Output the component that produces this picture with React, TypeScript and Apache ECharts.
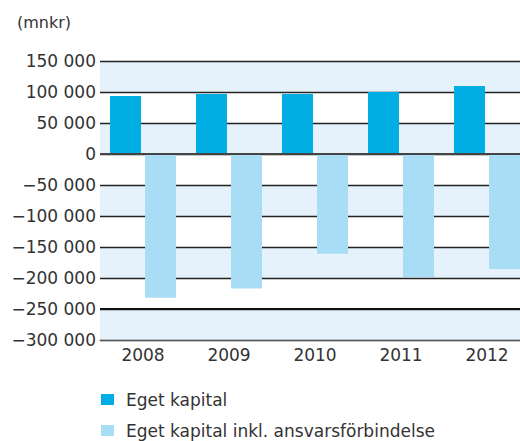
import React, { useEffect, useRef } from "react";
import * as echarts from "echarts";

const categories = ["2008", "2009", "2010", "2011", "2012"];
const egetKapital = [93500, 96800, 96800, 100000, 109700];
const inklAnsvar = [-232000, -217000, -161000, -198500, -185500];
const seriesNames = ["Eget kapital", "Eget kapital inkl. ansvarsförbindelse"];
const unitLabel = "(mnkr)";

const FONT = "DejaVu Sans";

function fmt(v: number): string {
  const abs = Math.abs(v);
  const s = abs.toString().replace(/\B(?=(\d{3})+(?!\d))/g, " ");
  return (v < 0 ? "\u2212" : "") + s;
}

export default function App() {
  const ref = useRef<HTMLDivElement>(null);
  useEffect(() => {
    if (!ref.current) return;
    const chart = echarts.init(ref.current, undefined, { renderer: "svg" });
    const legendBase = {
      orient: "horizontal",
      left: 101,
      itemWidth: 13,
      itemHeight: 11,
      icon: "rect",
      padding: 0,
      textStyle: {
        fontFamily: FONT,
        fontSize: 17,
        color: "#333333",
        padding: [0, 0, 0, 7],
      },
    };
    chart.setOption({
      animation: false,
      backgroundColor: "#ffffff",
      textStyle: { fontFamily: FONT },
      graphic: [
        {
          type: "text",
          left: 17,
          top: 14,
          style: { text: unitLabel, font: `16px '${FONT}'`, fill: "#333333" },
        },
      ],
      legend: [
        { ...legendBase, top: 391, data: [seriesNames[0]] },
        { ...legendBase, top: 422, data: [seriesNames[1]] },
      ],
      grid: { left: 100, right: 0, top: 61, bottom: 101 },
      xAxis: {
        type: "category",
        data: categories,
        axisLine: { onZero: false, lineStyle: { color: "#555555", width: 1 } },
        axisTick: { show: false },
        axisLabel: { fontFamily: FONT, fontSize: 17, color: "#333333", margin: 6 },
      },
      yAxis: {
        type: "value",
        min: -300000,
        max: 150000,
        interval: 50000,
        axisLine: { show: false },
        axisTick: { show: false },
        axisLabel: {
          fontFamily: FONT,
          fontSize: 17,
          color: "#333333",
          margin: 4,
          formatter: (v: number) => fmt(v),
        },
        splitLine: { show: true, lineStyle: { color: "#222222", width: 1.3 } },
        splitArea: { show: true, areaStyle: { color: ["#e5f2fb", "#ffffff"] } },
      },
      series: [
        {
          name: seriesNames[0],
          type: "bar",
          data: egetKapital,
          barWidth: 31,
          barGap: "13%",
          itemStyle: { color: "#00aee4" },
          markLine: {
            silent: true,
            symbol: "none",
            label: { show: false },
            data: [
              { yAxis: 0, lineStyle: { color: "#444444", width: 2.2, type: "solid" } },
              { yAxis: -250000, lineStyle: { color: "#111111", width: 2.2, type: "solid" } },
            ],
          },
        },
        {
          name: seriesNames[1],
          type: "bar",
          data: inklAnsvar,
          barWidth: 31,
          itemStyle: { color: "#a9ddf5" },
        },
      ],
    });
    return () => chart.dispose();
  }, []);
  return (
    <div
      style={{
        position: "fixed",
        left: 0,
        top: 0,
        width: 520,
        height: 441,
        overflow: "hidden",
      }}
    >
      <div ref={ref} style={{ width: 530, height: 441 }} />
    </div>
  );
}
